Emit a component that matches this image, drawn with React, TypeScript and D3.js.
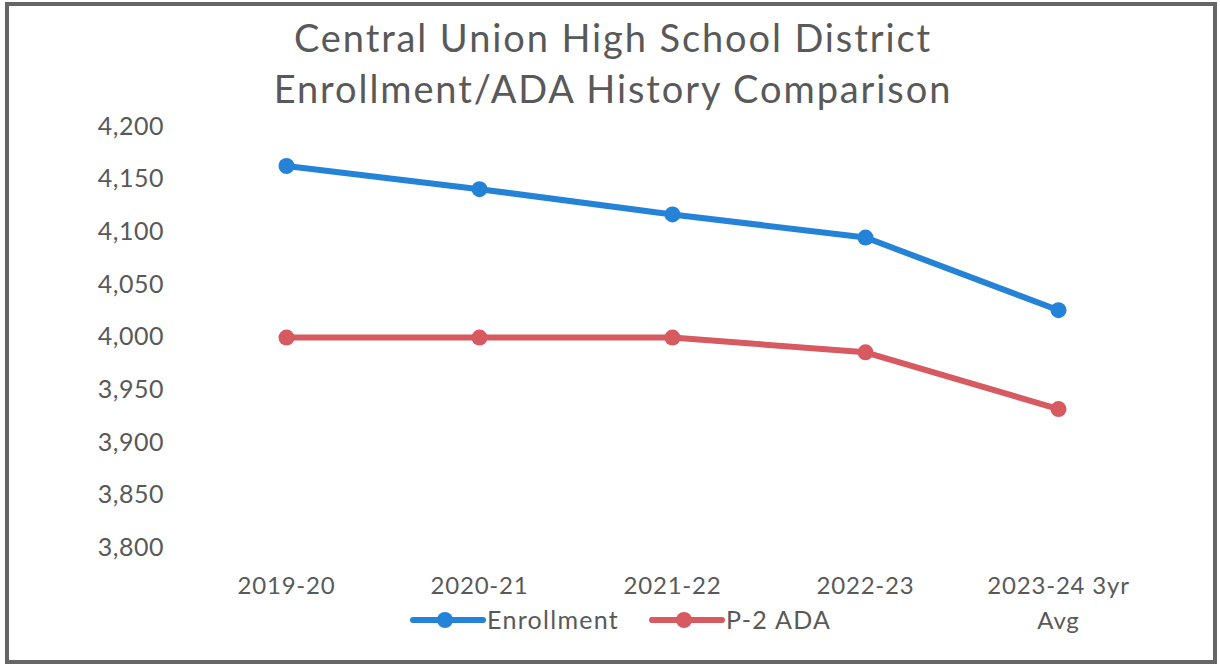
import React from "react";
import * as d3 from "d3";

const categories = ["2019-20", "2020-21", "2021-22", "2022-23", "2023-24 3yr Avg"];
const enrollment = [4162, 4140, 4116, 4094, 4025];
const p2ada = [3999, 3999, 3999, 3985, 3931];
const yTicks = [3800, 3850, 3900, 3950, 4000, 4050, 4100, 4150, 4200];
const titleLines = ["Central Union High School District", "Enrollment/ADA History Comparison"];

const W = 1220;
const H = 668;
const FONT = "Lato, 'Open Sans', sans-serif";
const TEXT = "#595959";

const series = [
  { name: "Enrollment", values: enrollment, color: "#2483d6", legendX: 413 },
  { name: "P-2 ADA", values: p2ada, color: "#d65a60", legendX: 652 },
];

function wrapLabel(s: string): string[] {
  return s === "2023-24 3yr Avg" ? ["2023-24 3yr", "Avg"] : [s];
}

export default function App() {
  const x = d3.scaleBand<string>().domain(categories).range([190, 1155]);
  const y = d3.scaleLinear().domain([3800, 4200]).range([547, 126]);
  const fmt = d3.format(",");
  const cx = (c: string) => (x(c) as number) + x.bandwidth() / 2;
  const line = d3
    .line<number>()
    .x((_, i) => cx(categories[i]))
    .y((d) => y(d));

  return (
    <svg width={W} height={H} style={{ position: "absolute", left: 0, top: 0 }}>
      <rect x={0} y={0} width={W} height={H} fill="#fff" />
      <rect x={7} y={4} width={1208} height={658} fill="none" stroke="#666" strokeWidth={4} />
      {titleLines.map((t, i) => (
        <text key={t} x={613} y={52 + i * 51} textAnchor="middle" fontFamily={FONT} fontSize={38} letterSpacing={1.9} fill={TEXT}>
          {t}
        </text>
      ))}
      {yTicks.map((v) => (
        <text key={v} x={164} y={y(v)} dy="0.35em" textAnchor="end" fontFamily={FONT} fontSize={25} letterSpacing={0.5} fill={TEXT}>
          {fmt(v)}
        </text>
      ))}
      {categories.map((c) => (
        <text key={c} x={cx(c)} y={594} textAnchor="middle" fontFamily={FONT} fontSize={24} letterSpacing={0.8} fill={TEXT}>
          {wrapLabel(c).map((l, j) => (
            <tspan key={j} x={cx(c)} dy={j === 0 ? 0 : 35}>
              {l}
            </tspan>
          ))}
        </text>
      ))}
      {series.map((s) => (
        <g key={s.name}>
          <path d={line(s.values) || ""} fill="none" stroke={s.color} strokeWidth={6} strokeLinejoin="round" strokeLinecap="round" />
          {s.values.map((v, i) => (
            <circle key={i} cx={cx(categories[i])} cy={y(v)} r={8} fill={s.color} />
          ))}
        </g>
      ))}
      {series.map((s) => (
        <g key={s.name}>
          <line x1={s.legendX} x2={s.legendX + 70} y1={620} y2={620} stroke={s.color} strokeWidth={6} strokeLinecap="round" />
          <circle cx={s.legendX + 32} cy={620} r={8} fill={s.color} />
          <text x={s.legendX + 74} y={620} dy="0.35em" fontFamily={FONT} fontSize={25} letterSpacing={1.3} fill={TEXT}>
            {s.name}
          </text>
        </g>
      ))}
    </svg>
  );
}
